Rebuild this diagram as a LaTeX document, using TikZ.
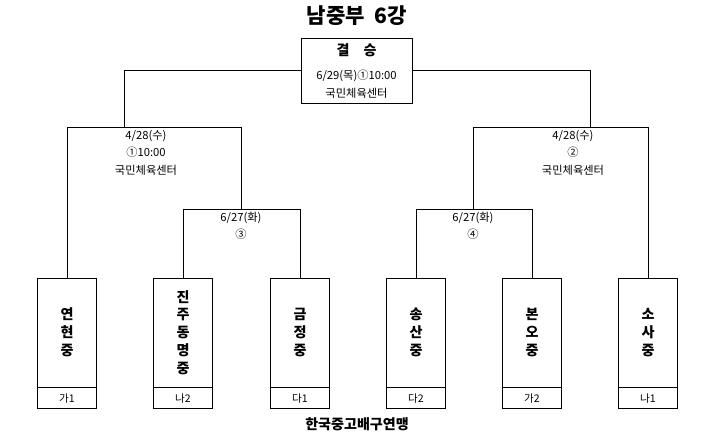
\documentclass[tikz,border=0pt]{standalone}
\usepackage{fontspec}
\setmainfont{Noto Sans CJK KR}
\tikzset{
  team/.style={draw, line width=0.7pt, minimum width=14.75mm, minimum height=32.5mm, anchor=north west, inner sep=0pt},
  teamname/.style={font=\fontsize{10}{12.6}\selectfont\bfseries, align=center},
  grp/.style={font=\fontsize{7.5}{9}\selectfont},
  info/.style={font=\fontsize{8}{12.5}\selectfont, align=center, anchor=north},
  line/.style={line width=0.7pt}
}
\begin{document}
\begin{tikzpicture}[x=0.25mm, y=-0.25mm]
  \useasboundingbox (0,0) rectangle (720,439);
  % title
  \node[font=\fontsize{15}{18}\selectfont\bfseries] (title) at (357,16) {남중부\ \ 6강};
  % final
  \node[draw, line width=0.7pt, minimum width=27.75mm, minimum height=16.25mm, inner sep=0pt] (final) at (356.5,70.5) {};
  \node[font=\fontsize{10}{12}\selectfont\bfseries] (fname) at (356.5,50) {결\quad 승};
  \node[info] (finfo) at (356.5,65) {6/29(목)①10:00\\국민체육센터};
  % teams
  \foreach \name/\x/\txt/\g in {t1/37/연\\현\\중/가1, t2/153/진\\주\\동\\명\\중/나2, t3/270/금\\정\\중/다1,
      t4/386/송\\산\\중/다2, t5/502/본\\오\\중/가2, t6/618/소\\사\\중/나1} {
    \node[team] (\name) at (\x,278) {};
    \draw[line] ([yshift=-27.25mm]\name.north west) -- ([yshift=-27.25mm]\name.north east);
    \node[teamname] at ([yshift=-13.6mm]\name.north) {\txt};
    \node[grp] at ([yshift=2.6mm]\name.south) {\g};
  }
  % brackets
  \coordinate (lq) at (124,127);
  \coordinate (rq) at (590,127);
  \draw[line] (final.west) -| (lq);
  \draw[line] (final.east) -| (rq);
  \draw[line] (t1.north) |- (241,127) -- (241,209);
  \draw[line] (t2.north) |- (t3.north |- 0,209) -- (t3.north);
  \draw[line] (t6.north) |- (473,127) -- (473,209);
  \draw[line] (t4.north) |- (t5.north |- 0,209) -- (t5.north);
  % match info
  \node[info] (m1) at (146,125) {4/28(수)\\①10:00\\국민체육센터};
  \node[info] (m2) at (573,125) {4/28(수)\\②\\국민체육센터};
  \node[info] (m3) at (241,207) {6/27(화)\\③};
  \node[info] (m4) at (473,207) {6/27(화)\\④};
  % footer
  \node[font=\fontsize{10}{12}\selectfont\bfseries] (foot) at (357,424) {한국중고배구연맹};
\end{tikzpicture}
\end{document}
